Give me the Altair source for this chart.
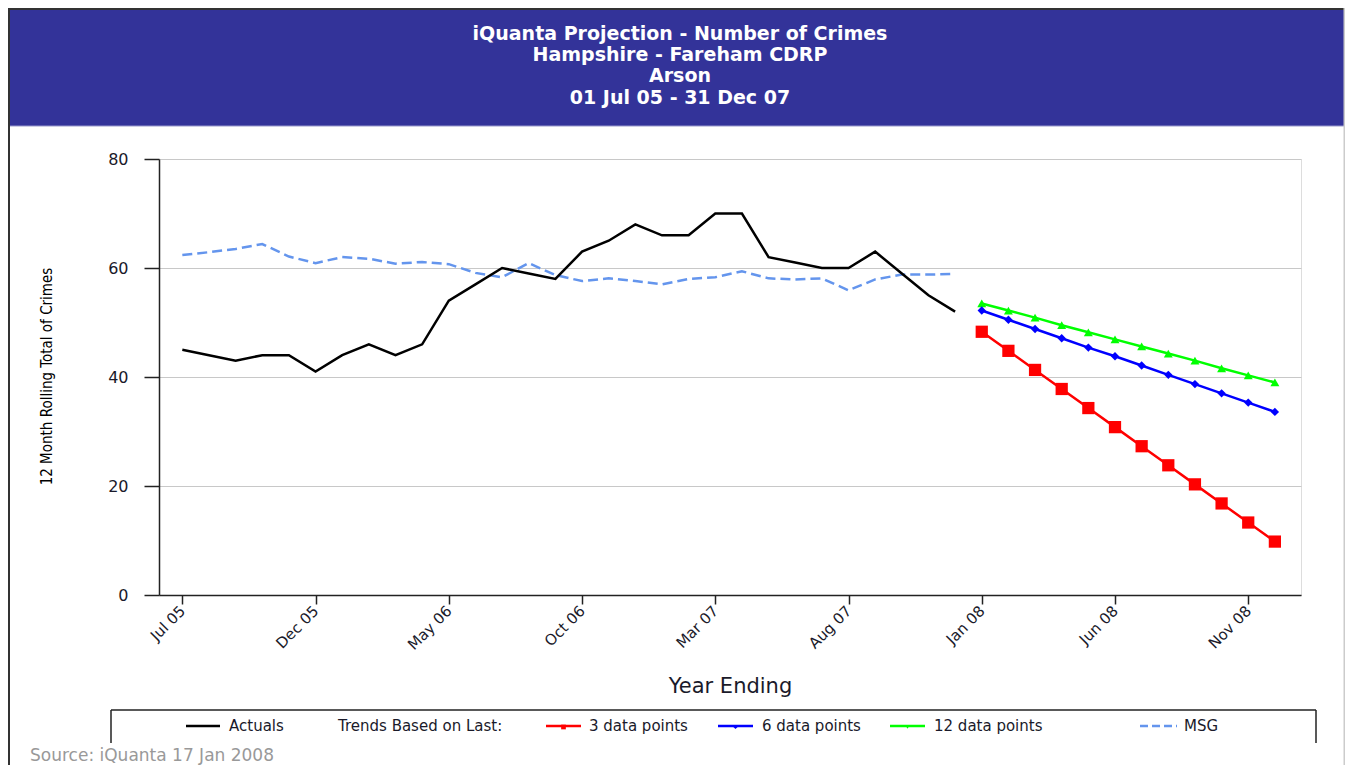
import altair as alt
import pandas as pd

# ---------------- data ----------------
months = ["Jul 05", "Aug 05", "Sep 05", "Oct 05", "Nov 05", "Dec 05",
          "Jan 06", "Feb 06", "Mar 06", "Apr 06", "May 06", "Jun 06",
          "Jul 06", "Aug 06", "Sep 06", "Oct 06", "Nov 06", "Dec 06",
          "Jan 07", "Feb 07", "Mar 07", "Apr 07", "May 07", "Jun 07",
          "Jul 07", "Aug 07", "Sep 07", "Oct 07", "Nov 07", "Dec 07",
          "Jan 08", "Feb 08", "Mar 08", "Apr 08", "May 08", "Jun 08",
          "Jul 08", "Aug 08", "Sep 08", "Oct 08", "Nov 08", "Dec 08"]

actuals = [45, 44, 43, 44, 44, 41, 44, 46, 44, 46, 54, 57,
           60, 59, 58, 63, 65, 68, 66, 66, 70, 70, 62, 61,
           60, 60, 63, 59, 55, 52]

msg = [62.4, 62.9, 63.5, 64.4, 62.1, 60.9, 62.0, 61.7, 60.8, 61.1, 60.7, 59.1,
       58.3, 60.9, 58.7, 57.6, 58.1, 57.6, 57.0, 58.0, 58.3, 59.4, 58.1, 57.9,
       58.1, 55.9, 57.9, 58.8, 58.8, 58.9]

trend_3 = [48.3, 44.8, 41.3, 37.8, 34.3, 30.8, 27.3, 23.8, 20.3, 16.8, 13.3, 9.8]
trend_6 = [52.2, 50.5, 48.8, 47.1, 45.4, 43.8, 42.1, 40.4, 38.7, 37.0, 35.3, 33.6]
trend_12 = [53.5, 52.2, 50.9, 49.5, 48.2, 46.9, 45.6, 44.3, 43.0, 41.6, 40.3, 39.0]

title_lines = ["iQuanta Projection - Number of Crimes",
               "Hampshire - Fareham CDRP",
               "Arson",
               "01 Jul 05 - 31 Dec 07"]
y_title = "12 Month Rolling Total of Crimes"
x_title = "Year Ending"
legend_labels = ["Actuals", "Trends Based on Last:", "3 data points",
                 "6 data points", "12 data points", "MSG"]
source_text = "Source: iQuanta 17 Jan 2008"

# ---------------- tables ----------------
n_hist = len(actuals)
df_act = pd.DataFrame({"idx": list(range(n_hist)), "value": actuals})
df_msg = pd.DataFrame({"idx": list(range(len(msg))), "value": msg})
trend_idx = list(range(n_hist, n_hist + len(trend_3)))
df_t3 = pd.DataFrame({"idx": trend_idx, "value": trend_3})
df_t6 = pd.DataFrame({"idx": trend_idx, "value": trend_6})
df_t12 = pd.DataFrame({"idx": trend_idx, "value": trend_12})
one = pd.DataFrame({"k": [0]})

# ---------------- styling ----------------
W, H = 1142, 436
FONT = "DejaVu Sans, Verdana, sans-serif"
NARROW = "Liberation Sans Narrow, DejaVu Sans Condensed, sans-serif"
BANNER = "#333399"
RIGHT = 1186  # right edge of the page frame, relative to plot origin

label_array = "[" + ",".join("'" + m + "'" for m in months) + "]"

xs = alt.Scale(domain=[-0.875, 41.98], nice=False, zero=False)
ys = alt.Scale(domain=[0, 80], nice=False)

x_axis = alt.Axis(values=list(range(0, len(months), 5)),
                  labelExpr=label_array + "[datum.value]",
                  labelAngle=315, labelAlign="right", labelBaseline="middle",
                  labelPadding=4, labelFontSize=15, labelFont=FONT,
                  labelColor="#1a1a2a", tickSize=9, tickColor="#222",
                  tickWidth=1.5, domainColor="#222", domainWidth=1.5,
                  grid=False, title=x_title, titleFont=FONT, titleFontSize=21,
                  titleFontWeight="normal", titleColor="#1a1a2a",
                  titleX=W / 2, titleY=97, titleBaseline="alphabetic",
                  titleAlign="center", labelOverlap=False)

y_axis = alt.Axis(values=[0, 20, 40, 60, 80], labelFontSize=16,
                  labelFont=FONT, labelColor="#1a1a2a", labelPadding=16,
                  tickSize=15, tickColor="#222", tickWidth=1.5,
                  domainColor="#222", domainWidth=1.5,
                  grid=True, gridColor="#c8c8c8", gridWidth=1,
                  title=y_title, titleFont=NARROW, titleFontSize=15,
                  titleFontWeight="normal", titleColor="#000",
                  titleAngle=270, titleX=-113, titleY=217,
                  titleAlign="center", titleBaseline="middle")

X = alt.X("idx:Q", scale=xs, axis=x_axis)
Y = alt.Y("value:Q", scale=ys, axis=y_axis)

layers = []

# data lines
layers.append(alt.Chart(df_msg).mark_line(color="#6495ED", strokeWidth=2.5,
                                          strokeDash=[10, 5]).encode(x=X, y=Y))
layers.append(alt.Chart(df_act).mark_line(color="black", strokeWidth=2.5).encode(x=X, y=Y))

trend_specs = [(df_t12, "#00FF00", "triangle-up", 80),
               (df_t6, "#0000FF", "diamond", 70),
               (df_t3, "#FF0000", "square", 150)]
for d, c, shp, sz in trend_specs:
    layers.append(alt.Chart(d).mark_line(color=c, strokeWidth=2.5).encode(x=X, y=Y))
    layers.append(alt.Chart(d).mark_point(color=c, filled=True, opacity=1,
                                          shape=shp, size=sz).encode(x=X, y=Y))

# banner and frame (pixel decoration, relative to plot origin)
layers.append(alt.Chart(one).mark_rect(color=BANNER).encode(
    x=alt.value(-151), x2=alt.value(RIGHT), y=alt.value(-151), y2=alt.value(-33)))
layers.append(alt.Chart(one).mark_rule(color="#9999cc", strokeWidth=1).encode(
    x=alt.value(-151), x2=alt.value(RIGHT), y=alt.value(-33)))
layers.append(alt.Chart(one).mark_rule(color="#333", strokeWidth=2).encode(
    x=alt.value(-150), y=alt.value(-151), y2=alt.value(620)))
layers.append(alt.Chart(one).mark_rule(color="#333", strokeWidth=2).encode(
    x=alt.value(-151), x2=alt.value(RIGHT), y=alt.value(-150)))
layers.append(alt.Chart(one).mark_rule(color="#cccccc", strokeWidth=1.5).encode(
    x=alt.value(RIGHT - 0.75), y=alt.value(-151), y2=alt.value(620)))

title_baselines = [-119.5, -98.2, -77.2, -54.8]
for line, yb in zip(title_lines, title_baselines):
    layers.append(alt.Chart(one).mark_text(
        color="white", font=FONT, fontSize=19, fontWeight="bold",
        align="center", baseline="alphabetic").encode(
        x=alt.value(521), y=alt.value(yb), text=alt.value(line)))

# legend box (open at bottom)
LX0, LX1, LY0, LY1 = -48, 1157, 551, 584
layers.append(alt.Chart(one).mark_rule(color="#222", strokeWidth=1.5).encode(
    x=alt.value(LX0), x2=alt.value(LX1), y=alt.value(LY0)))
layers.append(alt.Chart(one).mark_rule(color="#222", strokeWidth=1.5).encode(
    x=alt.value(LX0), y=alt.value(LY0), y2=alt.value(LY1)))
layers.append(alt.Chart(one).mark_rule(color="#222", strokeWidth=1.5).encode(
    x=alt.value(LX1), y=alt.value(LY0), y2=alt.value(LY1)))

LY = 567
# (line start, line end, colour, dash, marker shape, marker size, text x)
legend_items = [
    (27, 61, "black", None, None, 0, 70),
    (None, None, None, None, None, 0, 179),
    (387, 422, "#FF0000", None, "square", 22, 430),
    (559, 594, "#0000FF", None, "diamond", 18, 603),
    (731, 766, "#00FF00", None, "triangle-down", 18, 775),
    (981, 1018, "#6495ED", [8, 4], None, 0, 1025),
]
for (a, b, c, dash, shp, sz, tx), lab in zip(legend_items, legend_labels):
    if a is not None:
        kw = dict(color=c, strokeWidth=2.5)
        if dash:
            kw["strokeDash"] = dash
        layers.append(alt.Chart(one).mark_rule(**kw).encode(
            x=alt.value(a), x2=alt.value(b), y=alt.value(LY)))
    if shp:
        layers.append(alt.Chart(one).mark_point(
            shape=shp, size=sz, color=c, filled=True, opacity=1).encode(
            x=alt.value((a + b) / 2), y=alt.value(LY + 1)))
    layers.append(alt.Chart(one).mark_text(
        align="left", baseline="middle", font=FONT, fontSize=15,
        color="#1a1a2a").encode(x=alt.value(tx), y=alt.value(LY),
                                text=alt.value(lab)))

layers.append(alt.Chart(one).mark_text(
    align="left", baseline="middle", font=FONT, fontSize=17,
    color="#999999").encode(x=alt.value(-129), y=alt.value(597),
                            text=alt.value(source_text)))

chart = alt.layer(*layers).properties(
    width=W, height=H,
    autosize=alt.AutoSizeParams(type="none"),
    padding={"left": 151, "top": 151, "right": 45, "bottom": 170},
).configure_view(stroke="#222", strokeWidth=1.5).configure(background="white")

chart.save("out.html", embed_options={"renderer": "svg", "actions": False})
